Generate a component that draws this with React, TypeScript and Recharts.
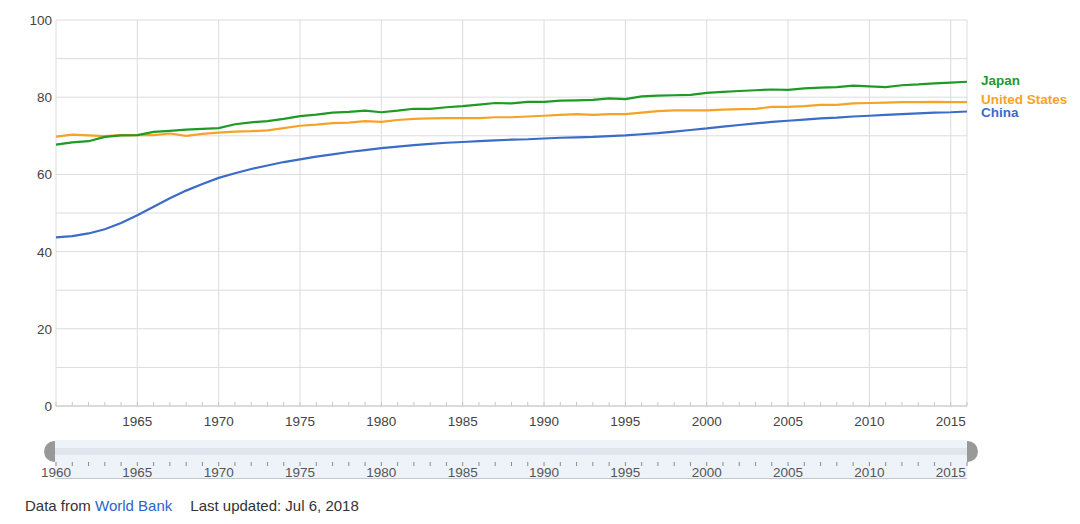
import { LineChart, Line, XAxis, YAxis, CartesianGrid, LabelList } from "recharts";

const years = Array.from({ length: 57 }, (_, i) => 1960 + i);

const china = [
  43.7, 44.0, 44.7, 45.8, 47.4, 49.4, 51.6, 53.8, 55.8, 57.5,
  59.1, 60.3, 61.4, 62.3, 63.2, 63.9, 64.6, 65.2, 65.8, 66.3,
  66.8, 67.2, 67.6, 67.9, 68.2, 68.4, 68.6, 68.8, 69.0, 69.1,
  69.3, 69.5, 69.6, 69.7, 69.9, 70.1, 70.4, 70.7, 71.1, 71.5,
  71.9, 72.4, 72.8, 73.2, 73.6, 73.9, 74.2, 74.5, 74.7, 75.0,
  75.2, 75.4, 75.6, 75.8, 76.0, 76.1, 76.3,
];

const japan = [
  67.7, 68.3, 68.6, 69.7, 70.1, 70.2, 71.0, 71.3, 71.6, 71.8,
  72.0, 73.0, 73.5, 73.8, 74.4, 75.1, 75.5, 76.0, 76.2, 76.5,
  76.1, 76.5, 77.0, 77.0, 77.4, 77.7, 78.1, 78.5, 78.4, 78.8,
  78.8, 79.1, 79.2, 79.3, 79.7, 79.5, 80.2, 80.4, 80.5, 80.6,
  81.1, 81.4, 81.6, 81.8, 82.0, 81.9, 82.3, 82.5, 82.6, 83.0,
  82.8, 82.6, 83.1, 83.3, 83.6, 83.8, 84.0,
];

const unitedStates = [
  69.8, 70.3, 70.1, 69.9, 70.2, 70.2, 70.2, 70.6, 70.0, 70.5,
  70.8, 71.1, 71.2, 71.4, 72.0, 72.6, 72.9, 73.3, 73.4, 73.8,
  73.6, 74.1, 74.4, 74.5, 74.6, 74.6, 74.6, 74.8, 74.8, 75.0,
  75.2, 75.4, 75.6, 75.4, 75.6, 75.6, 76.0, 76.4, 76.6, 76.6,
  76.6, 76.8, 76.9, 77.0, 77.5, 77.5, 77.7, 78.0, 78.0, 78.4,
  78.5, 78.6, 78.7, 78.7, 78.8, 78.7, 78.7,
];

const yTicks = [0, 10, 20, 30, 40, 50, 60, 70, 80, 90, 100];
const gridYears = [1960, 1965, 1970, 1975, 1980, 1985, 1990, 1995, 2000, 2005, 2010, 2015, 2016];

const data = years.map((year, i) => ({
  year,
  china: china[i],
  japan: japan[i],
  us: unitedStates[i],
}));

const FONT = "'Liberation Sans', Arial, sans-serif";
const TEXT = "#444";

function MainXTick(props: any) {
  const { x, y, payload } = props;
  const v = payload.value as number;
  return (
    <g>
      <line x1={x} x2={x} y1={y - 4} y2={y} stroke="#c8c8c8" />
      {v % 5 === 0 && v !== 1960 && (
        <text x={x} y={y + 20} textAnchor="middle" fontSize={13.5} fill={TEXT} fontFamily={FONT}>
          {v}
        </text>
      )}
    </g>
  );
}

function SliderTick(props: any) {
  const { x, y, payload } = props;
  const v = payload.value as number;
  return (
    <g>
      <line x1={x} x2={x} y1={y + 26} y2={y + 30} stroke="#888" />
      {v % 5 === 0 && v !== 2016 && (
        <text x={x} y={y + 41} textAnchor="middle" fontSize={13.5} fill="#555" fontFamily={FONT}>
          {v}
        </text>
      )}
    </g>
  );
}

function YTick(props: any) {
  const { x, y, payload } = props;
  const v = payload.value as number;
  if (v % 20 !== 0) return null;
  return (
    <text x={x} y={y + 5} textAnchor="end" fontSize={13.5} fill={TEXT} fontFamily={FONT}>
      {v}
    </text>
  );
}

const endLabel = (name: string, color: string, dy: number) => (props: any) => {
  const { x, y, index } = props;
  if (index !== data.length - 1) return null;
  return (
    <text x={x + 14} y={y + dy + 4.5} fontSize={13.5} fontWeight="bold" fill={color} fontFamily={FONT}>
      {name}
    </text>
  );
};

export default function App() {
  return (
    <div style={{ position: "absolute", left: 0, top: 0, width: 1080, height: 524, background: "#fff" }}>
      {/* range slider backdrop */}
      <div style={{ position: "absolute", left: 55, top: 440, width: 912, height: 38, background: "#eef3f9", borderBottom: "1px solid #c4c8cc" }} />
      <div style={{ position: "absolute", left: 55, top: 448, width: 912, height: 7, background: "#dfe5ec" }} />
      <div style={{ position: "absolute", left: 44, top: 441, width: 11, height: 21, background: "#999", borderRadius: "11px 0 0 11px" }} />
      <div style={{ position: "absolute", left: 967, top: 441, width: 11, height: 21, background: "#999", borderRadius: "0 11px 11px 0" }} />

      <div style={{ position: "absolute", left: 0, top: 0 }}>
        <LineChart width={1080} height={524} data={data} margin={{ top: 20, right: 113, bottom: 44, left: 6 }}>
          <CartesianGrid stroke="#dcdcdc" verticalValues={gridYears} />
          <XAxis
            dataKey="year"
            type="number"
            domain={[1960, 2016]}
            ticks={years}
            interval={0}
            height={30}
            tickLine={false}
            tickSize={0}
            tickMargin={0}
            axisLine={{ stroke: "#c8c8c8" }}
            tick={<MainXTick />}
          />
          <XAxis
            xAxisId="s"
            dataKey="year"
            type="number"
            domain={[1960, 2016]}
            ticks={years}
            interval={0}
            height={44}
            tickLine={false}
            tickSize={0}
            tickMargin={0}
            axisLine={false}
            tick={<SliderTick />}
          />
          <YAxis
            domain={[0, 100]}
            ticks={yTicks}
            interval={0}
            width={50}
            tickLine={false}
            tickSize={0}
            tickMargin={4}
            axisLine={false}
            tick={<YTick />}
          />
          <Line type="linear" dataKey="china" stroke="#3b6cc7" strokeWidth={2.2} dot={false} isAnimationActive={false}>
            <LabelList dataKey="china" content={endLabel("China", "#3b6cc7", 1.5)} />
          </Line>
          <Line type="linear" dataKey="us" stroke="#f5a328" strokeWidth={2.2} dot={false} isAnimationActive={false}>
            <LabelList dataKey="us" content={endLabel("United States", "#f5a328", -3)} />
          </Line>
          <Line type="linear" dataKey="japan" stroke="#1f9a24" strokeWidth={2.2} dot={false} isAnimationActive={false}>
            <LabelList dataKey="japan" content={endLabel("Japan", "#1f9a24", -1)} />
          </Line>
        </LineChart>
      </div>

      <div style={{ position: "absolute", left: 25, top: 497, fontFamily: FONT, fontSize: 15, color: "#333", whiteSpace: "nowrap" }}>
        Data from <span style={{ color: "#2d63c8" }}>World Bank</span>
        <span style={{ marginLeft: 18 }}>Last updated: Jul 6, 2018</span>
      </div>
    </div>
  );
}
